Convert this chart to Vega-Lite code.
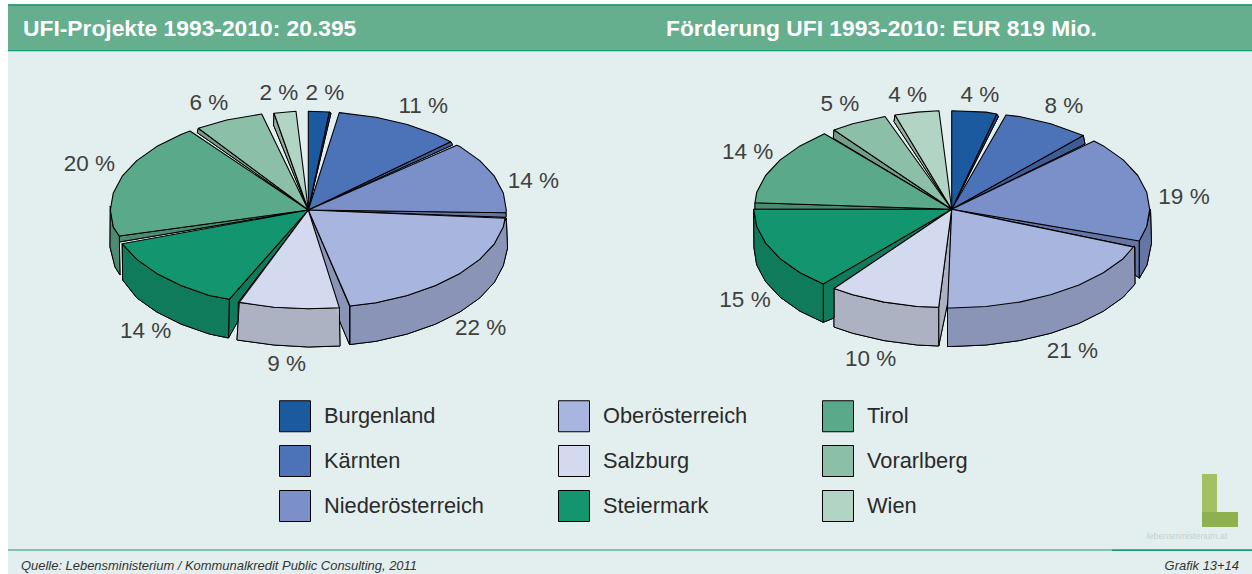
{
"$schema":"https://vega.github.io/schema/vega-lite/v6.json",
"width":1252,"height":574,"padding":0,
"autosize":{"type":"fit","contains":"padding"},
"background":"#ffffff",
"config":{"view":{"stroke":null},"font":"Liberation Sans"},
"datasets":{
"panels":[
{"name":"body","x":8,"x2":1252,"y":51,"y2":574,"c":"#e3efee"},
{"name":"band","x":8,"x2":1252,"y":4,"y2":51,"c":"#65ae8e"},
{"name":"bandTop","x":8,"x2":1252,"y":4.5,"y2":5.7,"c":"#1a9a72"},
{"name":"bandBottom","x":8,"x2":1252,"y":50,"y2":51.2,"c":"#1a9a72"},
{"name":"footLine","x":8,"x2":1252,"y":549.5,"y2":550.5,"c":"#1a9a72"},
{"name":"footLineR","x":1112,"x2":1252,"y":549.5,"y2":551,"c":"#1a9a72"},
{"name":"logoV","x":1202,"x2":1217,"y":474,"y2":527,"c":"#a3c063"},
{"name":"logoH","x":1202,"x2":1238,"y":512,"y2":527,"c":"#8fb04e"}
],
"texts":[
{"t":"UFI-Projekte 1993-2010: 20.395","x":23,"y":29},
{"t":"Förderung UFI 1993-2010: EUR 819 Mio.","x":666,"y":29}
],
"labels":[
{"pie":"Projekte","region":"Burgenland","label":"2 %","x":325,"y":92.7},
{"pie":"Projekte","region":"Kärnten","label":"11 %","x":423.3,"y":106},
{"pie":"Projekte","region":"Niederösterreich","label":"14 %","x":533.3,"y":181},
{"pie":"Projekte","region":"Oberösterreich","label":"22 %","x":480.7,"y":328.3},
{"pie":"Projekte","region":"Salzburg","label":"9 %","x":286.7,"y":364},
{"pie":"Projekte","region":"Steiermark","label":"14 %","x":145.7,"y":331},
{"pie":"Projekte","region":"Tirol","label":"20 %","x":89.3,"y":164.3},
{"pie":"Projekte","region":"Vorarlberg","label":"6 %","x":209,"y":103.3},
{"pie":"Projekte","region":"Wien","label":"2 %","x":279,"y":93.3},
{"pie":"Foerderung","region":"Burgenland","label":"4 %","x":980,"y":95},
{"pie":"Foerderung","region":"Kärnten","label":"8 %","x":1064,"y":106},
{"pie":"Foerderung","region":"Niederösterreich","label":"19 %","x":1184,"y":197.3},
{"pie":"Foerderung","region":"Oberösterreich","label":"21 %","x":1072.3,"y":351},
{"pie":"Foerderung","region":"Salzburg","label":"10 %","x":870.7,"y":359},
{"pie":"Foerderung","region":"Steiermark","label":"15 %","x":745,"y":300},
{"pie":"Foerderung","region":"Tirol","label":"14 %","x":747.7,"y":152.3},
{"pie":"Foerderung","region":"Vorarlberg","label":"5 %","x":840,"y":104},
{"pie":"Foerderung","region":"Wien","label":"4 %","x":907.7,"y":95}
],
"polys":[
{"p":"L-Bu-s","region":"Burgenland","part":"side","n":1,"x":329.3,"y":112},{"p":"L-Bu-s","region":"Burgenland","part":"side","n":2,"x":331,"y":113},{"p":"L-Bu-s","region":"Burgenland","part":"side","n":3,"x":308.3,"y":210},
{"p":"L-Ka-s","region":"Kärnten","part":"side","n":1,"x":450.7,"y":141.7},{"p":"L-Ka-s","region":"Kärnten","part":"side","n":2,"x":452.7,"y":145},{"p":"L-Ka-s","region":"Kärnten","part":"side","n":3,"x":308.3,"y":210},
{"p":"L-Ni-s","region":"Niederösterreich","part":"side","n":1,"x":506,"y":212.7},{"p":"L-Ni-s","region":"Niederösterreich","part":"side","n":2,"x":506,"y":217.3},{"p":"L-Ni-s","region":"Niederösterreich","part":"side","n":3,"x":308.3,"y":210},
{"p":"L-Ob-i","region":"Oberösterreich","part":"side","n":1,"x":308.3,"y":210},{"p":"L-Ob-i","region":"Oberösterreich","part":"side","n":2,"x":349.5,"y":306},{"p":"L-Ob-i","region":"Oberösterreich","part":"side","n":3,"x":349.5,"y":344.5},{"p":"L-Ob-i","region":"Oberösterreich","part":"side","n":4,"x":340,"y":322},
{"p":"L-Ob-s","region":"Oberösterreich","part":"side","n":1,"x":350,"y":306},{"p":"L-Ob-s","region":"Oberösterreich","part":"side","n":2,"x":376,"y":302.8},{"p":"L-Ob-s","region":"Oberösterreich","part":"side","n":3,"x":407.3,"y":295.5},{"p":"L-Ob-s","region":"Oberösterreich","part":"side","n":4,"x":435.6,"y":285.6},{"p":"L-Ob-s","region":"Oberösterreich","part":"side","n":5,"x":460,"y":273.4},{"p":"L-Ob-s","region":"Oberösterreich","part":"side","n":6,"x":479.8,"y":259.4},{"p":"L-Ob-s","region":"Oberösterreich","part":"side","n":7,"x":494.4,"y":243.8},{"p":"L-Ob-s","region":"Oberösterreich","part":"side","n":8,"x":506.3,"y":218},{"p":"L-Ob-s","region":"Oberösterreich","part":"side","n":9,"x":507.5,"y":248},{"p":"L-Ob-s","region":"Oberösterreich","part":"side","n":10,"x":503.3,"y":265.6},{"p":"L-Ob-s","region":"Oberösterreich","part":"side","n":11,"x":494.4,"y":282.3},{"p":"L-Ob-s","region":"Oberösterreich","part":"side","n":12,"x":479.8,"y":297.9},{"p":"L-Ob-s","region":"Oberösterreich","part":"side","n":13,"x":460,"y":311.9},{"p":"L-Ob-s","region":"Oberösterreich","part":"side","n":14,"x":435.6,"y":324.1},{"p":"L-Ob-s","region":"Oberösterreich","part":"side","n":15,"x":407.3,"y":334},{"p":"L-Ob-s","region":"Oberösterreich","part":"side","n":16,"x":376,"y":341.3},{"p":"L-Ob-s","region":"Oberösterreich","part":"side","n":17,"x":350,"y":344.5},
{"p":"L-Sa-s","region":"Salzburg","part":"side","n":1,"x":339.3,"y":307.7},{"p":"L-Sa-s","region":"Salzburg","part":"side","n":2,"x":308.3,"y":308.7},{"p":"L-Sa-s","region":"Salzburg","part":"side","n":3,"x":273.9,"y":307.2},{"p":"L-Sa-s","region":"Salzburg","part":"side","n":4,"x":239.3,"y":302.4},{"p":"L-Sa-s","region":"Salzburg","part":"side","n":5,"x":237,"y":340},{"p":"L-Sa-s","region":"Salzburg","part":"side","n":6,"x":273.9,"y":345},{"p":"L-Sa-s","region":"Salzburg","part":"side","n":7,"x":308.3,"y":347},{"p":"L-Sa-s","region":"Salzburg","part":"side","n":8,"x":340,"y":346},
{"p":"L-St-i","region":"Steiermark","part":"side","n":1,"x":308.3,"y":210},{"p":"L-St-i","region":"Steiermark","part":"side","n":2,"x":229.3,"y":299.3},{"p":"L-St-i","region":"Steiermark","part":"side","n":3,"x":228.5,"y":338},{"p":"L-St-i","region":"Steiermark","part":"side","n":4,"x":238,"y":321},{"p":"L-St-i","region":"Steiermark","part":"side","n":5,"x":238.3,"y":302},
{"p":"L-St-s","region":"Steiermark","part":"side","n":1,"x":122.2,"y":243.8},{"p":"L-St-s","region":"Steiermark","part":"side","n":2,"x":136.8,"y":259.4},{"p":"L-St-s","region":"Steiermark","part":"side","n":3,"x":156.6,"y":273.4},{"p":"L-St-s","region":"Steiermark","part":"side","n":4,"x":181,"y":285.6},{"p":"L-St-s","region":"Steiermark","part":"side","n":5,"x":209.3,"y":295.5},{"p":"L-St-s","region":"Steiermark","part":"side","n":6,"x":229.3,"y":299.3},{"p":"L-St-s","region":"Steiermark","part":"side","n":7,"x":228.5,"y":338},{"p":"L-St-s","region":"Steiermark","part":"side","n":8,"x":209.3,"y":334},{"p":"L-St-s","region":"Steiermark","part":"side","n":9,"x":181,"y":324.1},{"p":"L-St-s","region":"Steiermark","part":"side","n":10,"x":156.6,"y":311.9},{"p":"L-St-s","region":"Steiermark","part":"side","n":11,"x":136.8,"y":297.9},{"p":"L-St-s","region":"Steiermark","part":"side","n":12,"x":122.7,"y":280},
{"p":"L-Ti-i","region":"Tirol","part":"side","n":1,"x":308.3,"y":210},{"p":"L-Ti-i","region":"Tirol","part":"side","n":2,"x":119.3,"y":236},{"p":"L-Ti-i","region":"Tirol","part":"side","n":3,"x":119.3,"y":242},
{"p":"L-Ti-s","region":"Tirol","part":"side","n":1,"x":110.3,"y":206},{"p":"L-Ti-s","region":"Tirol","part":"side","n":2,"x":113.3,"y":227.1},{"p":"L-Ti-s","region":"Tirol","part":"side","n":3,"x":119.3,"y":236},{"p":"L-Ti-s","region":"Tirol","part":"side","n":4,"x":120,"y":275},{"p":"L-Ti-s","region":"Tirol","part":"side","n":5,"x":115,"y":267},{"p":"L-Ti-s","region":"Tirol","part":"side","n":6,"x":110,"y":247},
{"p":"L-Vo-s","region":"Vorarlberg","part":"side","n":1,"x":198.3,"y":128.3},{"p":"L-Vo-s","region":"Vorarlberg","part":"side","n":2,"x":197.3,"y":132.7},{"p":"L-Vo-s","region":"Vorarlberg","part":"side","n":3,"x":308.3,"y":210},
{"p":"L-Wi-s","region":"Wien","part":"side","n":1,"x":274,"y":113.3},{"p":"L-Wi-s","region":"Wien","part":"side","n":2,"x":273.5,"y":125},{"p":"L-Wi-s","region":"Wien","part":"side","n":3,"x":308.3,"y":210},

{"p":"L-Bu","region":"Burgenland","part":"top","n":1,"x":308.3,"y":210},{"p":"L-Bu","region":"Burgenland","part":"top","n":2,"x":308.3,"y":111.3},{"p":"L-Bu","region":"Burgenland","part":"top","n":3,"x":329.3,"y":112},
{"p":"L-Ka","region":"Kärnten","part":"top","n":1,"x":308.3,"y":210},{"p":"L-Ka","region":"Kärnten","part":"top","n":2,"x":339.3,"y":112.6},{"p":"L-Ka","region":"Kärnten","part":"top","n":3,"x":376,"y":117.2},{"p":"L-Ka","region":"Kärnten","part":"top","n":4,"x":407.3,"y":124.5},{"p":"L-Ka","region":"Kärnten","part":"top","n":5,"x":435.6,"y":134.4},{"p":"L-Ka","region":"Kärnten","part":"top","n":6,"x":450.7,"y":141.7},
{"p":"L-Ni","region":"Niederösterreich","part":"top","n":1,"x":308.3,"y":210},{"p":"L-Ni","region":"Niederösterreich","part":"top","n":2,"x":456.7,"y":145.3},{"p":"L-Ni","region":"Niederösterreich","part":"top","n":3,"x":460,"y":146.6},{"p":"L-Ni","region":"Niederösterreich","part":"top","n":4,"x":479.8,"y":160.6},{"p":"L-Ni","region":"Niederösterreich","part":"top","n":5,"x":494.4,"y":176.2},{"p":"L-Ni","region":"Niederösterreich","part":"top","n":6,"x":503.3,"y":192.9},{"p":"L-Ni","region":"Niederösterreich","part":"top","n":7,"x":506.3,"y":210},{"p":"L-Ni","region":"Niederösterreich","part":"top","n":8,"x":506,"y":212.7},
{"p":"L-Ob","region":"Oberösterreich","part":"top","n":1,"x":308.3,"y":210},{"p":"L-Ob","region":"Oberösterreich","part":"top","n":2,"x":505,"y":218.3},{"p":"L-Ob","region":"Oberösterreich","part":"top","n":3,"x":503.3,"y":227.1},{"p":"L-Ob","region":"Oberösterreich","part":"top","n":4,"x":494.4,"y":243.8},{"p":"L-Ob","region":"Oberösterreich","part":"top","n":5,"x":479.8,"y":259.4},{"p":"L-Ob","region":"Oberösterreich","part":"top","n":6,"x":460,"y":273.4},{"p":"L-Ob","region":"Oberösterreich","part":"top","n":7,"x":435.6,"y":285.6},{"p":"L-Ob","region":"Oberösterreich","part":"top","n":8,"x":407.3,"y":295.5},{"p":"L-Ob","region":"Oberösterreich","part":"top","n":9,"x":376,"y":302.8},{"p":"L-Ob","region":"Oberösterreich","part":"top","n":10,"x":350,"y":306},
{"p":"L-Sa","region":"Salzburg","part":"top","n":1,"x":308.3,"y":210},{"p":"L-Sa","region":"Salzburg","part":"top","n":2,"x":339.3,"y":307.7},{"p":"L-Sa","region":"Salzburg","part":"top","n":3,"x":308.3,"y":308.7},{"p":"L-Sa","region":"Salzburg","part":"top","n":4,"x":273.9,"y":307.2},{"p":"L-Sa","region":"Salzburg","part":"top","n":5,"x":239.3,"y":302.4},
{"p":"L-St","region":"Steiermark","part":"top","n":1,"x":308.3,"y":210},{"p":"L-St","region":"Steiermark","part":"top","n":2,"x":229.3,"y":299.3},{"p":"L-St","region":"Steiermark","part":"top","n":3,"x":209.3,"y":295.5},{"p":"L-St","region":"Steiermark","part":"top","n":4,"x":181,"y":285.6},{"p":"L-St","region":"Steiermark","part":"top","n":5,"x":156.6,"y":273.4},{"p":"L-St","region":"Steiermark","part":"top","n":6,"x":136.8,"y":259.4},{"p":"L-St","region":"Steiermark","part":"top","n":7,"x":122.2,"y":243.8},
{"p":"L-Ti","region":"Tirol","part":"top","n":1,"x":308.3,"y":210},{"p":"L-Ti","region":"Tirol","part":"top","n":2,"x":119.3,"y":236},{"p":"L-Ti","region":"Tirol","part":"top","n":3,"x":113.3,"y":227.1},{"p":"L-Ti","region":"Tirol","part":"top","n":4,"x":110.3,"y":210},{"p":"L-Ti","region":"Tirol","part":"top","n":5,"x":113.3,"y":192.9},{"p":"L-Ti","region":"Tirol","part":"top","n":6,"x":122.2,"y":176.2},{"p":"L-Ti","region":"Tirol","part":"top","n":7,"x":136.8,"y":160.6},{"p":"L-Ti","region":"Tirol","part":"top","n":8,"x":156.6,"y":146.6},{"p":"L-Ti","region":"Tirol","part":"top","n":9,"x":181,"y":134.4},{"p":"L-Ti","region":"Tirol","part":"top","n":10,"x":190,"y":131},
{"p":"L-Vo","region":"Vorarlberg","part":"top","n":1,"x":308.3,"y":210},{"p":"L-Vo","region":"Vorarlberg","part":"top","n":2,"x":198.3,"y":128.3},{"p":"L-Vo","region":"Vorarlberg","part":"top","n":3,"x":226.7,"y":120},{"p":"L-Vo","region":"Vorarlberg","part":"top","n":4,"x":261.7,"y":114},
{"p":"L-Wi","region":"Wien","part":"top","n":1,"x":308.3,"y":210},{"p":"L-Wi","region":"Wien","part":"top","n":2,"x":274,"y":113.3},{"p":"L-Wi","region":"Wien","part":"top","n":3,"x":296,"y":111.3},

{"p":"R-Bu-s","region":"Burgenland","part":"side","n":1,"x":996.7,"y":114},{"p":"R-Bu-s","region":"Burgenland","part":"side","n":2,"x":998.5,"y":116.5},{"p":"R-Bu-s","region":"Burgenland","part":"side","n":3,"x":951.7,"y":209.3},
{"p":"R-Ka-s","region":"Kärnten","part":"side","n":1,"x":1083.3,"y":135.5},{"p":"R-Ka-s","region":"Kärnten","part":"side","n":2,"x":1085,"y":144},{"p":"R-Ka-s","region":"Kärnten","part":"side","n":3,"x":951.7,"y":209.3},
{"p":"R-Ni-i","region":"Niederösterreich","part":"side","n":1,"x":951.7,"y":209.3},{"p":"R-Ni-i","region":"Niederösterreich","part":"side","n":2,"x":1139.3,"y":240},{"p":"R-Ni-i","region":"Niederösterreich","part":"side","n":3,"x":1139.3,"y":278},{"p":"R-Ni-i","region":"Niederösterreich","part":"side","n":4,"x":1135,"y":275},{"p":"R-Ni-i","region":"Niederösterreich","part":"side","n":5,"x":1135,"y":247},
{"p":"R-Ni-s","region":"Niederösterreich","part":"side","n":1,"x":1139.3,"y":241},{"p":"R-Ni-s","region":"Niederösterreich","part":"side","n":2,"x":1146.7,"y":226.4},{"p":"R-Ni-s","region":"Niederösterreich","part":"side","n":3,"x":1150.5,"y":209.3},{"p":"R-Ni-s","region":"Niederösterreich","part":"side","n":4,"x":1151.5,"y":243},{"p":"R-Ni-s","region":"Niederösterreich","part":"side","n":5,"x":1147,"y":265},{"p":"R-Ni-s","region":"Niederösterreich","part":"side","n":6,"x":1139.3,"y":278.3},
{"p":"R-Ob-s","region":"Oberösterreich","part":"side","n":1,"x":1134.5,"y":246},{"p":"R-Ob-s","region":"Oberösterreich","part":"side","n":2,"x":1135,"y":284},{"p":"R-Ob-s","region":"Oberösterreich","part":"side","n":3,"x":1123.2,"y":297.2},{"p":"R-Ob-s","region":"Oberösterreich","part":"side","n":4,"x":1103.4,"y":311.2},{"p":"R-Ob-s","region":"Oberösterreich","part":"side","n":5,"x":1079,"y":323.4},{"p":"R-Ob-s","region":"Oberösterreich","part":"side","n":6,"x":1050.7,"y":333.3},{"p":"R-Ob-s","region":"Oberösterreich","part":"side","n":7,"x":1019.4,"y":340.6},{"p":"R-Ob-s","region":"Oberösterreich","part":"side","n":8,"x":986.1,"y":345},{"p":"R-Ob-s","region":"Oberösterreich","part":"side","n":9,"x":951.7,"y":346.5},{"p":"R-Ob-s","region":"Oberösterreich","part":"side","n":10,"x":947.5,"y":346.5},{"p":"R-Ob-s","region":"Oberösterreich","part":"side","n":11,"x":947.5,"y":308},
{"p":"R-Sa-i","region":"Salzburg","part":"side","n":1,"x":951.7,"y":209.3},{"p":"R-Sa-i","region":"Salzburg","part":"side","n":2,"x":938.7,"y":307.3},{"p":"R-Sa-i","region":"Salzburg","part":"side","n":3,"x":938.7,"y":346},{"p":"R-Sa-i","region":"Salzburg","part":"side","n":4,"x":948.3,"y":300},
{"p":"R-Sa-s","region":"Salzburg","part":"side","n":1,"x":938.7,"y":307.3},{"p":"R-Sa-s","region":"Salzburg","part":"side","n":2,"x":917.3,"y":306.5},{"p":"R-Sa-s","region":"Salzburg","part":"side","n":3,"x":884,"y":302.1},{"p":"R-Sa-s","region":"Salzburg","part":"side","n":4,"x":852.7,"y":294.8},{"p":"R-Sa-s","region":"Salzburg","part":"side","n":5,"x":834,"y":288.5},{"p":"R-Sa-s","region":"Salzburg","part":"side","n":6,"x":834,"y":327},{"p":"R-Sa-s","region":"Salzburg","part":"side","n":7,"x":852.7,"y":333.3},{"p":"R-Sa-s","region":"Salzburg","part":"side","n":8,"x":884,"y":340.6},{"p":"R-Sa-s","region":"Salzburg","part":"side","n":9,"x":917.3,"y":345},{"p":"R-Sa-s","region":"Salzburg","part":"side","n":10,"x":938.7,"y":346},
{"p":"R-St-i","region":"Steiermark","part":"side","n":1,"x":951.7,"y":209.3},{"p":"R-St-i","region":"Steiermark","part":"side","n":2,"x":823.3,"y":283.5},{"p":"R-St-i","region":"Steiermark","part":"side","n":3,"x":823.3,"y":322.3},{"p":"R-St-i","region":"Steiermark","part":"side","n":4,"x":834,"y":318},{"p":"R-St-i","region":"Steiermark","part":"side","n":5,"x":834,"y":288.5},
{"p":"R-St-s","region":"Steiermark","part":"side","n":1,"x":753.7,"y":209.3},{"p":"R-St-s","region":"Steiermark","part":"side","n":2,"x":756.7,"y":226.4},{"p":"R-St-s","region":"Steiermark","part":"side","n":3,"x":765.6,"y":243.1},{"p":"R-St-s","region":"Steiermark","part":"side","n":4,"x":780.2,"y":258.7},{"p":"R-St-s","region":"Steiermark","part":"side","n":5,"x":800,"y":272.7},{"p":"R-St-s","region":"Steiermark","part":"side","n":6,"x":823.3,"y":284},{"p":"R-St-s","region":"Steiermark","part":"side","n":7,"x":823.3,"y":322.3},{"p":"R-St-s","region":"Steiermark","part":"side","n":8,"x":800,"y":311.2},{"p":"R-St-s","region":"Steiermark","part":"side","n":9,"x":780.2,"y":297.2},{"p":"R-St-s","region":"Steiermark","part":"side","n":10,"x":765.6,"y":281.6},{"p":"R-St-s","region":"Steiermark","part":"side","n":11,"x":756.7,"y":264.9},{"p":"R-St-s","region":"Steiermark","part":"side","n":12,"x":754,"y":248},
{"p":"R-Ti-s","region":"Tirol","part":"side","n":1,"x":755,"y":202.7},{"p":"R-Ti-s","region":"Tirol","part":"side","n":2,"x":755,"y":209.3},{"p":"R-Ti-s","region":"Tirol","part":"side","n":3,"x":951.7,"y":209.3},
{"p":"R-Vo-s","region":"Vorarlberg","part":"side","n":1,"x":834,"y":130},{"p":"R-Vo-s","region":"Vorarlberg","part":"side","n":2,"x":833.3,"y":138.3},{"p":"R-Vo-s","region":"Vorarlberg","part":"side","n":3,"x":951.7,"y":209.3},
{"p":"R-Wi-s","region":"Wien","part":"side","n":1,"x":895,"y":115},{"p":"R-Wi-s","region":"Wien","part":"side","n":2,"x":894,"y":121.7},{"p":"R-Wi-s","region":"Wien","part":"side","n":3,"x":951.7,"y":209.3},

{"p":"R-Bu","region":"Burgenland","part":"top","n":1,"x":951.7,"y":209.3},{"p":"R-Bu","region":"Burgenland","part":"top","n":2,"x":951.7,"y":110.7},{"p":"R-Bu","region":"Burgenland","part":"top","n":3,"x":986.1,"y":112.1},{"p":"R-Bu","region":"Burgenland","part":"top","n":4,"x":996.7,"y":114},
{"p":"R-Ka","region":"Kärnten","part":"top","n":1,"x":951.7,"y":209.3},{"p":"R-Ka","region":"Kärnten","part":"top","n":2,"x":1006,"y":115},{"p":"R-Ka","region":"Kärnten","part":"top","n":3,"x":1019.4,"y":116.5},{"p":"R-Ka","region":"Kärnten","part":"top","n":4,"x":1050.7,"y":123.8},{"p":"R-Ka","region":"Kärnten","part":"top","n":5,"x":1083.3,"y":135.5},
{"p":"R-Ni","region":"Niederösterreich","part":"top","n":1,"x":951.7,"y":209.3},{"p":"R-Ni","region":"Niederösterreich","part":"top","n":2,"x":1094,"y":141},{"p":"R-Ni","region":"Niederösterreich","part":"top","n":3,"x":1103.4,"y":145.9},{"p":"R-Ni","region":"Niederösterreich","part":"top","n":4,"x":1123.2,"y":159.9},{"p":"R-Ni","region":"Niederösterreich","part":"top","n":5,"x":1137.8,"y":175.5},{"p":"R-Ni","region":"Niederösterreich","part":"top","n":6,"x":1146.7,"y":192.2},{"p":"R-Ni","region":"Niederösterreich","part":"top","n":7,"x":1149.7,"y":209.3},{"p":"R-Ni","region":"Niederösterreich","part":"top","n":8,"x":1146.7,"y":226.4},{"p":"R-Ni","region":"Niederösterreich","part":"top","n":9,"x":1139.3,"y":241},
{"p":"R-Ob","region":"Oberösterreich","part":"top","n":1,"x":951.7,"y":209.3},{"p":"R-Ob","region":"Oberösterreich","part":"top","n":2,"x":1133.3,"y":247},{"p":"R-Ob","region":"Oberösterreich","part":"top","n":3,"x":1123.2,"y":258.7},{"p":"R-Ob","region":"Oberösterreich","part":"top","n":4,"x":1103.4,"y":272.7},{"p":"R-Ob","region":"Oberösterreich","part":"top","n":5,"x":1079,"y":284.9},{"p":"R-Ob","region":"Oberösterreich","part":"top","n":6,"x":1050.7,"y":294.8},{"p":"R-Ob","region":"Oberösterreich","part":"top","n":7,"x":1019.4,"y":302.1},{"p":"R-Ob","region":"Oberösterreich","part":"top","n":8,"x":986.1,"y":306.5},{"p":"R-Ob","region":"Oberösterreich","part":"top","n":9,"x":951.7,"y":308},{"p":"R-Ob","region":"Oberösterreich","part":"top","n":10,"x":947.5,"y":308},
{"p":"R-Sa","region":"Salzburg","part":"top","n":1,"x":951.7,"y":209.3},{"p":"R-Sa","region":"Salzburg","part":"top","n":2,"x":938.7,"y":307.3},{"p":"R-Sa","region":"Salzburg","part":"top","n":3,"x":917.3,"y":306.5},{"p":"R-Sa","region":"Salzburg","part":"top","n":4,"x":884,"y":302.1},{"p":"R-Sa","region":"Salzburg","part":"top","n":5,"x":852.7,"y":294.8},{"p":"R-Sa","region":"Salzburg","part":"top","n":6,"x":834,"y":288.5},
{"p":"R-St","region":"Steiermark","part":"top","n":1,"x":951.7,"y":209.3},{"p":"R-St","region":"Steiermark","part":"top","n":2,"x":823.3,"y":284},{"p":"R-St","region":"Steiermark","part":"top","n":3,"x":800,"y":272.7},{"p":"R-St","region":"Steiermark","part":"top","n":4,"x":780.2,"y":258.7},{"p":"R-St","region":"Steiermark","part":"top","n":5,"x":765.6,"y":243.1},{"p":"R-St","region":"Steiermark","part":"top","n":6,"x":756.7,"y":226.4},{"p":"R-St","region":"Steiermark","part":"top","n":7,"x":753.7,"y":209.3},
{"p":"R-Ti","region":"Tirol","part":"top","n":1,"x":951.7,"y":209.3},{"p":"R-Ti","region":"Tirol","part":"top","n":2,"x":755,"y":202.7},{"p":"R-Ti","region":"Tirol","part":"top","n":3,"x":756.7,"y":192.2},{"p":"R-Ti","region":"Tirol","part":"top","n":4,"x":765.6,"y":175.5},{"p":"R-Ti","region":"Tirol","part":"top","n":5,"x":780.2,"y":159.9},{"p":"R-Ti","region":"Tirol","part":"top","n":6,"x":800,"y":145.9},{"p":"R-Ti","region":"Tirol","part":"top","n":7,"x":824.4,"y":133.7},
{"p":"R-Vo","region":"Vorarlberg","part":"top","n":1,"x":951.7,"y":209.3},{"p":"R-Vo","region":"Vorarlberg","part":"top","n":2,"x":834,"y":130},{"p":"R-Vo","region":"Vorarlberg","part":"top","n":3,"x":852.7,"y":123.8},{"p":"R-Vo","region":"Vorarlberg","part":"top","n":4,"x":885,"y":116.5},
{"p":"R-Wi","region":"Wien","part":"top","n":1,"x":951.7,"y":209.3},{"p":"R-Wi","region":"Wien","part":"top","n":2,"x":895,"y":115},{"p":"R-Wi","region":"Wien","part":"top","n":3,"x":917.3,"y":112.1},{"p":"R-Wi","region":"Wien","part":"top","n":4,"x":939,"y":110.7}
]
},
"layer":[
{"data":{"name":"panels"},"mark":{"type":"rect"},
 "encoding":{
 "x":{"field":"x","type":"quantitative","scale":{"domain":[0,1252],"nice":false,"zero":false},"axis":null},
 "x2":{"field":"x2"},
 "y":{"field":"y","type":"quantitative","scale":{"domain":[0,574],"reverse":true,"nice":false,"zero":false},"axis":null},
 "y2":{"field":"y2"},
 "fill":{"field":"c","type":"nominal","scale":null}}},
{"data":{"name":"polys"},"transform":[{"filter":"datum.part==='side'"}],
 "mark":{"type":"line","interpolate":"linear-closed","fill":"#000000","stroke":"#000000","strokeWidth":1},
 "encoding":{"x":{"field":"x","type":"quantitative"},"y":{"field":"y","type":"quantitative"},"detail":{"field":"p"},"order":{"field":"n","type":"quantitative"}}},
{"data":{"name":"polys"},"transform":[{"filter":"datum.part==='side'"}],
 "mark":{"type":"line","interpolate":"linear-closed","stroke":"#000000","strokeWidth":1,"fillOpacity":0.82,"strokeJoin":"round"},
 "encoding":{"x":{"field":"x","type":"quantitative"},"y":{"field":"y","type":"quantitative"},"detail":{"field":"p"},"order":{"field":"n","type":"quantitative"},
 "fill":{"field":"region","type":"nominal"}}},
{"data":{"name":"polys"},"transform":[{"filter":"datum.part==='top'"}],
 "mark":{"type":"line","interpolate":"linear-closed","stroke":"#000000","strokeWidth":1.1,"strokeJoin":"round"},
 "encoding":{"x":{"field":"x","type":"quantitative"},"y":{"field":"y","type":"quantitative"},"detail":{"field":"p"},"order":{"field":"n","type":"quantitative"},
 "fill":{"field":"region","type":"nominal",
  "scale":{"domain":["Burgenland","Kärnten","Niederösterreich","Oberösterreich","Salzburg","Steiermark","Tirol","Vorarlberg","Wien"],
  "range":["#1c5aa0","#4c72b8","#7b90c9","#a7b5df","#d3d9ee","#13966f","#5aa98a","#8bbfa7","#b2d4c5"]},
  "legend":{"title":null,"orient":"none","legendX":279,"legendY":400,"direction":"vertical","columns":3,"gridAlign":"each","columnPadding":72,"rowPadding":9,"symbolType":"square","symbolSize":961,"symbolStrokeColor":"#4a5560","symbolStrokeWidth":1,"symbolOpacity":1,"labelFontSize":21.8,"labelFont":"Liberation Sans","labelColor":"#2a2a2a","labelOffset":13,"labelLimit":300,"padding":0}}}},
{"data":{"name":"labels"},"mark":{"type":"text","fontSize":22.5,"color":"#404040","align":"center","baseline":"middle"},
 "encoding":{"x":{"field":"x","type":"quantitative"},"y":{"field":"y","type":"quantitative"},"text":{"field":"label"}}},
{"data":{"name":"texts"},"mark":{"type":"text","fontSize":22.8,"fontWeight":"bold","color":"#ffffff","align":"left","baseline":"middle"},
 "encoding":{"x":{"field":"x","type":"quantitative"},"y":{"field":"y","type":"quantitative"},"text":{"field":"t"}}},
{"data":{"values":[{"t":"Quelle: Lebensministerium / Kommunalkredit Public Consulting, 2011","x":21,"y":566}]},"mark":{"type":"text","fontSize":12.95,"fontStyle":"italic","color":"#333333","baseline":"middle","align":"left"},
 "encoding":{"x":{"field":"x","type":"quantitative"},"y":{"field":"y","type":"quantitative"},"text":{"field":"t"}}},
{"data":{"values":[{"t":"Grafik 13+14","x":1239,"y":566}]},"mark":{"type":"text","fontSize":12.95,"fontStyle":"italic","color":"#333333","baseline":"middle","align":"right"},
 "encoding":{"x":{"field":"x","type":"quantitative"},"y":{"field":"y","type":"quantitative"},"text":{"field":"t"}}},
{"data":{"values":[{"t":"lebensministerium.at","x":1187,"y":536}]},"mark":{"type":"text","fontSize":8.8,"color":"#c4d0d0","align":"center","baseline":"middle"},
 "encoding":{"x":{"field":"x","type":"quantitative"},"y":{"field":"y","type":"quantitative"},"text":{"field":"t"}}}
]
}
